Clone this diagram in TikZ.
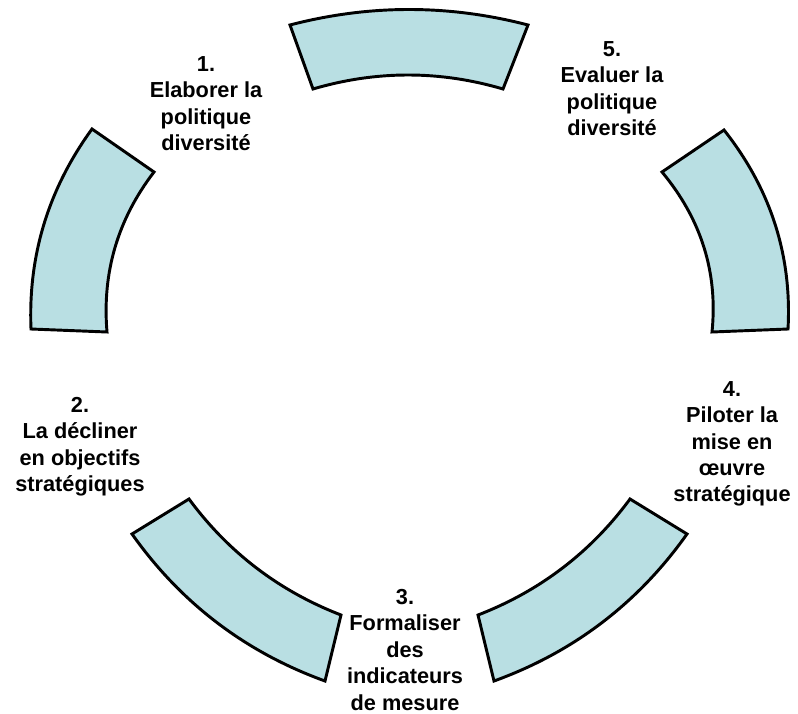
\documentclass[tikz,border=0pt]{standalone}
\usepackage{fontspec}
\setmainfont{Liberation Sans}
\usetikzlibrary{calc}
\definecolor{segfill}{RGB}{185,223,227}
\tikzset{
  seg/.style={fill=segfill, draw=black, line width=2.2pt, line join=miter},
  lbl/.style={font=\bfseries\fontsize{16.3}{19.8}\selectfont, align=center, inner sep=0pt, anchor=north}
}
% outer A, outer mid, outer B, inner B, inner mid, inner A
\newcommand{\arcseg}[6]{%
  \draw[seg] (#1) .. controls ($(#2)!-0.3333!(#3)$) and ($(#2)!-0.3333!(#1)$) .. (#3)
    -- (#4) .. controls ($(#5)!-0.3333!(#6)$) and ($(#5)!-0.3333!(#4)$) .. (#6) -- cycle;
}
\begin{document}
\begin{tikzpicture}[x=0.75pt,y=-0.75pt]
\useasboundingbox (0,0) rectangle (798,713);
% segments
\arcseg{290,25}{409,9.5}{528,25}{503,89}{408,75}{313,89}
\arcseg{92,129}{44,224}{31,329}{107,332}{115,247.5}{154,172}
\arcseg{724,130}{775,224}{788,329}{712,332}{704,247.5}{662,172}
\arcseg{132,534}{217,622.6}{325,681}{341,615}{256.5,568}{189,499}
\arcseg{687,534}{602,622.6}{494,681}{478,615}{562.5,568}{630,499}
% labels
\node[lbl] (l1) at (206,56) {1.\\Elaborer la\\politique\\diversité};
\node[lbl] (l5) at (612,41) {5.\\Evaluer la\\politique\\diversité};
\node[lbl] (l2) at (80,397) {2.\\La décliner\\en objectifs\\stratégiques};
\node[lbl] (l4) at (732,381) {4.\\Piloter la\\mise en\\œuvre\\stratégique};
\node[lbl] (l3) at (405,589) {3.\\Formaliser\\des\\indicateurs\\de mesure};
\end{tikzpicture}
\end{document}
